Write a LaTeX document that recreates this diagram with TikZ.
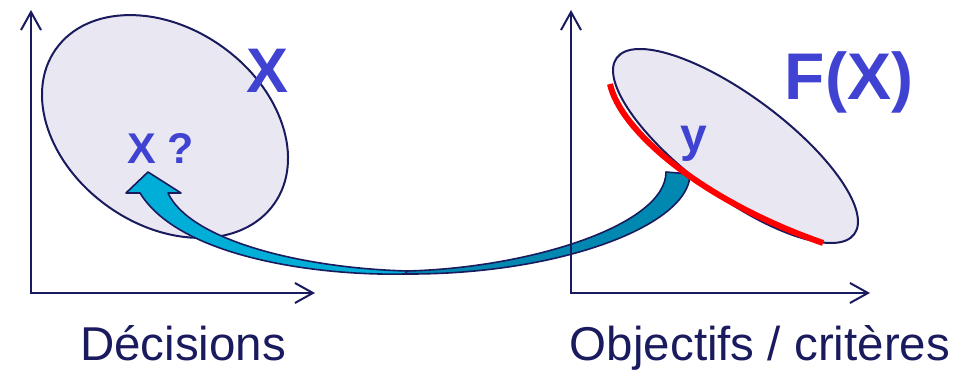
\documentclass[tikz,border=0pt]{standalone}
\usepackage{fontspec}
\setmainfont{Liberation Sans}
\usetikzlibrary{shapes.geometric, arrows.meta}
\definecolor{navy}{RGB}{26,26,94}
\definecolor{setblue}{RGB}{64,66,210}
\definecolor{setfill}{RGB}{233,232,242}
\definecolor{frontcyan}{RGB}{0,174,216}
\definecolor{backteal}{RGB}{0,136,176}
\tikzset{
  axis/.style = {
    draw=navy, line width=2pt,
    {Straight Barb[length=18pt, width=20pt]}-{Straight Barb[length=18pt, width=20pt]}
  },
  region/.style = {
    ellipse, draw=navy, line width=2pt, fill=setfill, inner sep=0pt
  },
  setlbl/.style = {
    text=setblue, anchor=base, inner sep=0pt,
    font=\fontsize{#1}{#1}\selectfont\bfseries
  },
  spacelbl/.style = {
    text=navy, anchor=base, inner sep=0pt,
    font=\fontsize{47.5}{47.5}\selectfont
  },
  band/.style  = { draw=navy, line width=1.6pt, line join=round },
  pareto/.style = { draw=red, line width=6pt }
}

\begin{document}
\begin{tikzpicture}[x=1pt, y=1pt]
    \useasboundingbox (0,0) rectangle (972,371);

    % ------------------------------------------------------------- Regions
    \node [region, minimum width=267.6, minimum height=196.4, rotate=-35.4]
      (decset) at (165, 244.5) {};
    \node [region, minimum width=295.8, minimum height=100.6, rotate=-36.6]
      (objset) at (735.5, 225) {};

    % ------------------------------------------------------ Arrow points
    \coordinate (tailL)  at (666, 199);
    \coordinate (tailR)  at (690, 197);
    \coordinate (twistO) at (405,  97);
    \coordinate (twistI) at (407, 100);
    \coordinate (headL)  at (140, 178);
    \coordinate (barbL)  at (126, 178);
    \coordinate (tip)    at (148, 199);
    \coordinate (barbR)  at (181, 178);
    \coordinate (headR)  at (168, 178);

    % -------- back face (teal)
    \fill [band, fill=backteal]
      (tailL) -- (tailR)
      .. controls (690, 146) and (560, 96) .. (twistO)
      -- (twistI)
      .. controls (530, 103) and (666, 146) .. (tailL) -- cycle;

    % -------- front face (cyan)
    \fill [band, fill=frontcyan]
      (twistO)
      .. controls (320, 95) and (180, 113) .. (headL)
      -- (barbL) -- (tip) -- (barbR) -- (headR)
      .. controls (190, 131) and (300, 103) .. (twistI) -- cycle;

    % ------------------------------------------------------ Pareto front
    \coordinate (paretoA) at (610, 287);
    \coordinate (paretoB) at (823, 128);
    \draw [pareto] (paretoA) .. controls (620, 241) and (700, 171) .. (paretoB);

    % ------------------------------------------------------------- Axes
    \coordinate (decY) at (31, 361);
    \coordinate (decO) at (31,  78);
    \coordinate (decX) at (315, 78);
    \coordinate (objY) at (571, 361);
    \coordinate (objO) at (571,  78);
    \coordinate (objX) at (870,  78);

    \draw [axis] (decY) -- (decO) -- (decX);
    \draw [axis] (objY) -- (objO) -- (objX);

    % ------------------------------------------------------------- Labels
    \node [setlbl=63] (setX)   at (267.5, 278) {X};
    \node [setlbl=43] (pointx) at (160.5, 207) {X ?};
    \node [setlbl=66] (setFX)  at (849,   271) {F(X)};
    \node [setlbl=48] (pointy) at (694,   219) {y};

    \node [spacelbl] (decisions)  at (183, 10.5) {Décisions};
    \node [spacelbl] (objectives) at (760, 10.5) {Objectifs / critères};

  \end{tikzpicture}
\end{document}
